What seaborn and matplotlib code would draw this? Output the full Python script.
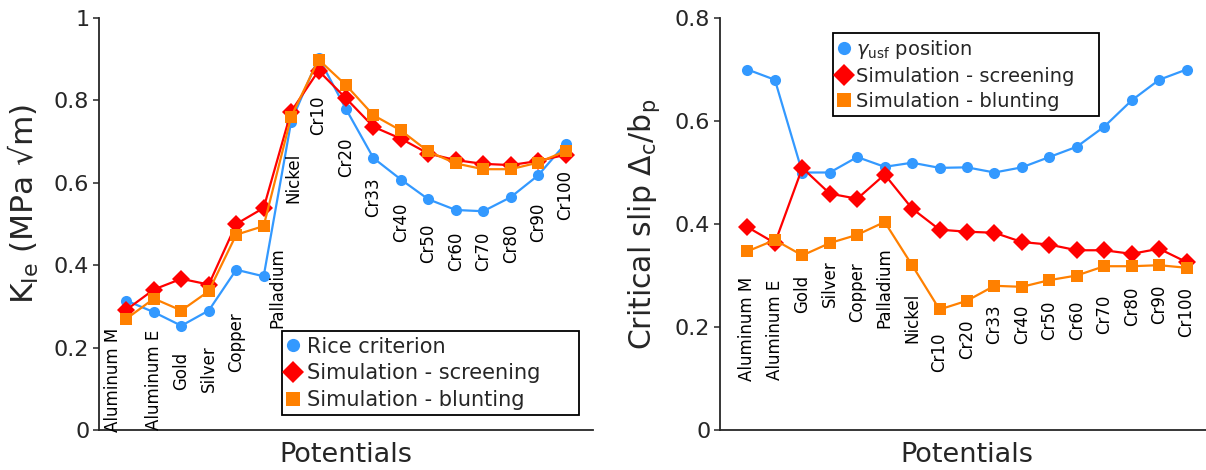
import numpy as np
import pandas as pd
import matplotlib
matplotlib.use("Agg")
import matplotlib.pyplot as plt
from matplotlib.lines import Line2D
import seaborn as sns

# ---- data -------------------------------------------------------------
potentials = ["Aluminum M", "Aluminum E", "Gold", "Silver", "Copper", "Palladium",
              "Nickel", "Cr10", "Cr20", "Cr33", "Cr40", "Cr50", "Cr60", "Cr70",
              "Cr80", "Cr90", "Cr100"]

# fracture toughness K_Ie (MPa sqrt(m))
k_rice = [0.314, 0.286, 0.253, 0.290, 0.389, 0.373, 0.748, 0.904, 0.779, 0.660,
          0.608, 0.560, 0.534, 0.531, 0.565, 0.618, 0.695]
k_screening = [0.292, 0.341, 0.367, 0.353, 0.500, 0.539, 0.773, 0.872, 0.805, 0.736,
               0.707, 0.671, 0.655, 0.646, 0.643, 0.653, 0.668]
k_blunting = [0.270, 0.319, 0.290, 0.337, 0.474, 0.495, 0.760, 0.899, 0.837, 0.764,
              0.727, 0.676, 0.647, 0.633, 0.633, 0.649, 0.677]

# critical slip Delta_c / b_p
s_usf = [0.700, 0.680, 0.500, 0.500, 0.530, 0.511, 0.519, 0.509, 0.510, 0.500,
         0.510, 0.530, 0.550, 0.589, 0.640, 0.680, 0.700]
s_screening = [0.394, 0.363, 0.509, 0.459, 0.449, 0.496, 0.430, 0.389, 0.385, 0.383,
               0.365, 0.360, 0.349, 0.349, 0.342, 0.352, 0.326]
s_blunting = [0.347, 0.369, 0.339, 0.363, 0.379, 0.404, 0.320, 0.234, 0.251, 0.280,
              0.278, 0.291, 0.300, 0.318, 0.318, 0.320, 0.315]

# ---- layout of the rotated category labels ---------------------------
left_label_x = [0.5, 2, 3, 4, 5, 6.5, 7.1, 8, 9, 10, 11, 12, 13, 14, 15, 16, 17]
left_label_top = [0.248, 0.243, 0.189, 0.206, 0.286, 0.444, 0.672, 0.811, 0.711,
                  0.612, 0.551, 0.502, 0.481, 0.481, 0.502, 0.551, 0.631]
right_label_top = [0.297, 0.291, 0.301, 0.330, 0.326, 0.355, 0.266, 0.190, 0.214,
                   0.243, 0.243, 0.252, 0.252, 0.262, 0.278, 0.282, 0.278]

BLUE = "#3399ff"
RED = "#ff0000"
ORANGE = "#ff8000"
INK = "#262626"

sns.set_style("ticks")
plt.rcParams["font.family"] = ["DejaVu Sans"]
plt.rcParams["mathtext.fontset"] = "dejavusans"

pos = np.arange(1, len(potentials) + 1)

fig = plt.figure(figsize=(12.06, 4.70), dpi=100)
ax1 = fig.add_axes([99 / 1206, 40 / 470, 494 / 1206, 412 / 470])
ax2 = fig.add_axes([720 / 1206, 40 / 470, 494 / 1206, 412 / 470])

styles = [dict(color=BLUE, marker="o", markersize=8),
          dict(color=RED, marker="D", markersize=9.5),
          dict(color=ORANGE, marker="s", markersize=8.5)]


def draw_series(ax, series):
    for vals, st in zip(series, styles):
        df = pd.DataFrame({"pos": pos, "val": vals})
        sns.lineplot(data=df, x="pos", y="val", ax=ax, color=st["color"],
                     marker=st["marker"], markersize=st["markersize"],
                     markeredgewidth=0, linewidth=1.6, legend=False)


def style_axis(ax, ymax, ylabel, ylabel_size, ylabel_y):
    ax.set_xlim(0, 18)
    ax.set_ylim(0, ymax)
    ax.set_xticks([])
    ax.set_xlabel("Potentials", fontsize=19.5, color=INK)
    ax.set_ylabel(ylabel, fontsize=ylabel_size, color=INK)
    ax.tick_params(axis="y", direction="out", length=4, width=1.1,
                   labelsize=16, colors=INK, pad=3)
    for side in ("top", "right"):
        ax.spines[side].set_visible(False)
    for side in ("left", "bottom"):
        ax.spines[side].set_color(INK)
        ax.spines[side].set_linewidth(1.3)
    ax.yaxis.set_label_coords(-0.117, ylabel_y)
    ax.xaxis.set_label_coords(0.5, -0.03)
    ax.xaxis.label.set_va("top")


def legend(ax, labels, box, loc, size):
    handles = [Line2D([], [], linestyle="none", color=st["color"], marker=st["marker"],
                      markersize=st["markersize"] + 1.5, markeredgewidth=0)
               for st in styles]
    leg = ax.legend(handles, labels, fontsize=size, frameon=True, fancybox=False,
                    framealpha=1, edgecolor="black", borderpad=0.25,
                    labelspacing=0.32, handletextpad=0.35, handlelength=0.6,
                    borderaxespad=0, mode="expand", bbox_to_anchor=box, loc=loc)
    leg.get_frame().set_linewidth(1.3)


# left panel: fracture toughness
draw_series(ax1, [k_rice, k_screening, k_blunting])
style_axis(ax1, 1.0, r"K$_{\mathrm{Ie}}$ (MPa √m)", 22.5, 0.55)
ax1.set_yticks([0, 0.2, 0.4, 0.6, 0.8, 1.0])
ax1.set_yticklabels(["0", "0.2", "0.4", "0.6", "0.8", "1"])
for name, x, y in zip(potentials, left_label_x, left_label_top):
    ax1.text(x, y, name, rotation=90, ha="center", va="top", fontsize=12, color="black")
legend(ax1, ["Rice criterion", "Simulation - screening", "Simulation - blunting"],
       (0.370, 0.036, 0.601, 0.3), "lower left", 15)

# right panel: critical slip
draw_series(ax2, [s_usf, s_screening, s_blunting])
style_axis(ax2, 0.8, r"Critical slip $\Delta_{\mathrm{c}}$/b$_{\mathrm{p}}$", 21.5, 0.5)
ax2.set_yticks([0, 0.2, 0.4, 0.6, 0.8])
ax2.set_yticklabels(["0", "0.2", "0.4", "0.6", "0.8"])
for name, x, y in zip(potentials, pos, right_label_top):
    ax2.text(x, y, name, rotation=90, ha="center", va="top", fontsize=12, color="black")
legend(ax2, [r"$\gamma_{\mathrm{usf}}$ position", "Simulation - screening",
             "Simulation - blunting"],
       (0.229, 0.5, 0.538, 0.464), "upper left", 14)

fig.savefig("out.png", dpi=100, facecolor="white")
